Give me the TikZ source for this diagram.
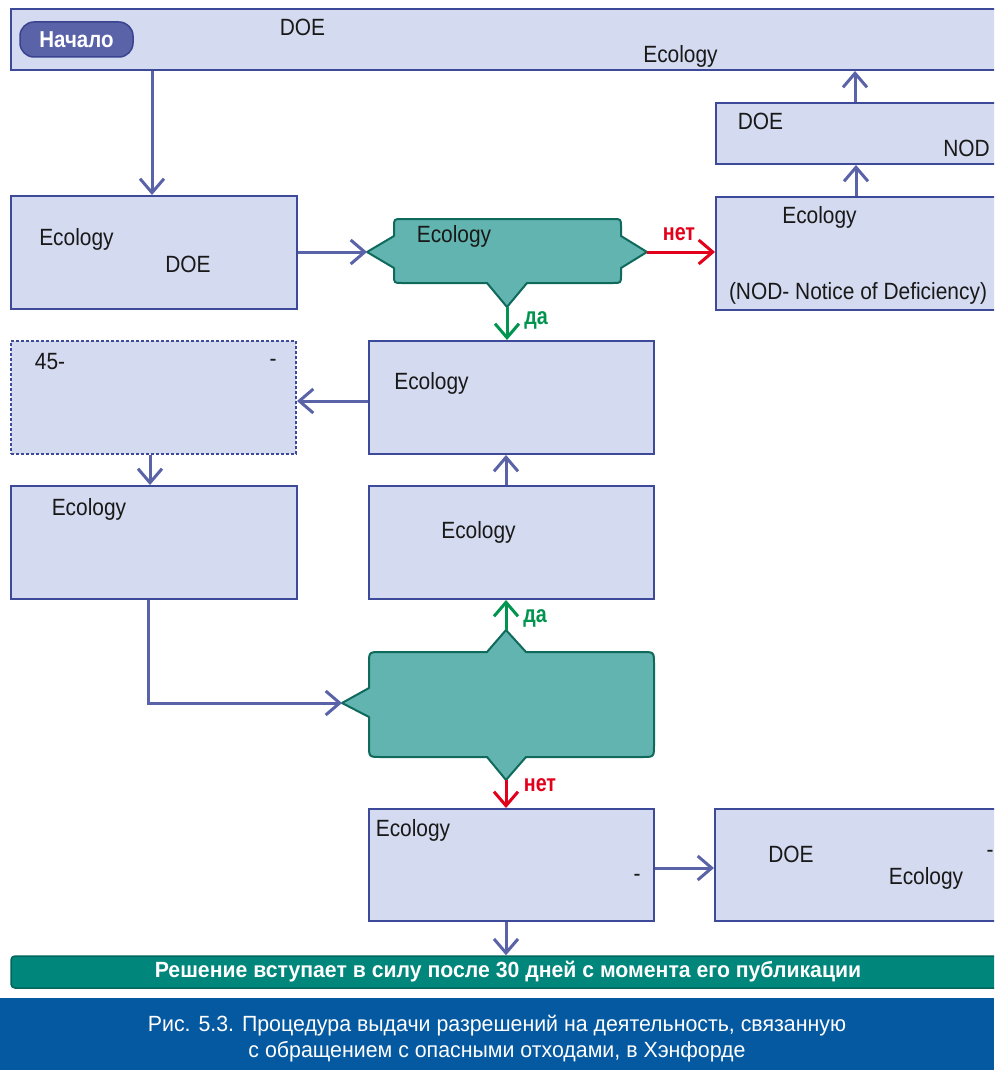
\documentclass[tikz,border=0pt]{standalone}
\usepackage{fontspec}
\setmainfont{Liberation Sans}
\newfontfamily\narrowfont{Liberation Sans}[FakeStretch=0.89]
\newfontfamily\lblfont{Liberation Sans}[FakeStretch=0.82]
\newfontfamily\bannerfont{Liberation Sans}[FakeStretch=0.965]
\newfontfamily\capfont{Liberation Sans}[FakeStretch=0.97]
\usetikzlibrary{arrows.meta,calc}
\definecolor{boxfill}{HTML}{D4DAEF}
\definecolor{boxdraw}{HTML}{3D4A9A}
\definecolor{arrowc}{HTML}{5A62A8}
\definecolor{decfill}{HTML}{62B4B0}
\definecolor{decdraw}{HTML}{0F6A5C}
\definecolor{greenc}{HTML}{00944F}
\definecolor{redc}{HTML}{E2001A}
\definecolor{bannerfill}{HTML}{00867A}
\definecolor{bannerdraw}{HTML}{00665C}
\definecolor{capfill}{HTML}{0559A0}
\definecolor{startfill}{HTML}{5A62A8}
\definecolor{startdraw}{HTML}{3A438F}
\begin{document}
\begin{tikzpicture}[x=1pt,y=-1pt,
  box/.style={draw=boxdraw, fill=boxfill, line width=2pt, rectangle, inner sep=0pt},
  dotbox/.style={draw=boxdraw, fill=boxfill, line width=2pt, dash pattern=on 3pt off 2pt, rectangle, inner sep=0pt},
  txt/.style={inner sep=0pt, text=black!90, font=\narrowfont\fontsize{23.5}{28}\selectfont},
  lbl/.style={inner sep=0pt, font=\lblfont\fontsize{24}{28}\selectfont\bfseries},
  arr/.style={draw=arrowc, line width=3pt, -{Straight Barb[length=14pt,width=24pt]}},
  garr/.style={arr, draw=greenc},
  rarr/.style={arr, draw=redc},
  dec/.style={draw=decdraw, fill=decfill, line width=2pt, line join=round}]
\useasboundingbox (0,0) rectangle (994,1070);
\clip (0,0) rectangle (994,1070);

% top box
\node[box, minimum width=989pt, minimum height=61pt] (top) at (505.5,39.5) {};
\node[draw=startdraw, fill=startfill, line width=1.5pt, rounded corners=14pt, minimum width=113pt, minimum height=35pt, inner sep=0pt, text=white, font=\narrowfont\fontsize{23}{27}\selectfont\bfseries] (start) at (76.5,39.5) {Начало};
\node[txt] (t1) at (302.5,27.5) {DOE};
\node[txt] (t2) at (680.5,56) {Ecology};

% right column upper
\node[box, minimum width=282pt, minimum height=61pt] (doenod) at (857,133.5) {};
\node[txt] (t3) at (760.5,121) {DOE};
\node[txt] (t4) at (966.5,148) {NOD};
\node[box, minimum width=282pt, minimum height=113pt] (nod) at (857,253.5) {};
\node[txt] (t5) at (819.5,217.5) {Ecology};
\node[txt] (t6) at (858,293) {(NOD- Notice of Deficiency)};

% left column
\node[box, minimum width=286pt, minimum height=113pt] (b2) at (154,252.5) {};
\node[txt] (t7) at (76.5,239) {Ecology};
\node[txt] (t8) at (188,264.5) {DOE};
\node[dotbox, minimum width=285pt, minimum height=113pt] (dot) at (153.5,397.5) {};
\node[txt] (t9) at (50,361.5) {45-};
\node[txt] (t10) at (273,363) {-};
\node[box, minimum width=286pt, minimum height=113pt] (l2) at (154,542.5) {};
\node[txt] (t11) at (89,509) {Ecology};

% center column
\node[box, minimum width=285pt, minimum height=113pt] (c1) at (511.5,397.5) {};
\node[txt] (t12) at (431.5,383) {Ecology};
\node[box, minimum width=285pt, minimum height=113pt] (c2) at (511.5,542.5) {};
\node[txt] (t13) at (478.5,532) {Ecology};
\node[box, minimum width=285pt, minimum height=112pt] (c3) at (511.5,865) {};
\node[txt] (t14) at (413,830) {Ecology};
\node[txt] (t15) at (637,878) {-};
\node[box, minimum width=283pt, minimum height=112pt] (r3) at (856.5,865) {};
\node[txt] (t16) at (791,854) {DOE};
\node[txt] (t17) at (926,878) {Ecology};
\node[txt] (t18) at (990,854) {-};

% decision 1
\draw[dec] (367,252) -- (394,236) -- (394,227) .. controls (394,219) .. (402,219) -- (613,219) .. controls (621,219) .. (621,227) -- (621,236) -- (647,252) -- (621,268) -- (621,275) .. controls (621,283) .. (613,283) -- (527,283) -- (507,307) -- (487,283) -- (402,283) .. controls (394,283) .. (394,275) -- (394,268) -- cycle;
\coordinate (d1l) at (367,252);
\coordinate (d1r) at (647,252);
\coordinate (d1b) at (507,307);
\node[txt] (t19) at (454,236) {Ecology};

% decision 2
\draw[dec] (342,703) -- (369,688) -- (369,664) .. controls (369,652) .. (381,652) -- (487,652) -- (506,630) -- (526,652) -- (642,652) .. controls (654,652) .. (654,664) -- (654,745) .. controls (654,757) .. (642,757) -- (526,757) -- (506,780) -- (487,757) -- (381,757) .. controls (369,757) .. (369,745) -- (369,717) -- cycle;
\coordinate (d2l) at (342,703);
\coordinate (d2t) at (506,630);
\coordinate (d2b) at (506,780);

% banner and caption
\node[draw=bannerdraw, fill=bannerfill, line width=1.5pt, rounded corners=4pt, minimum width=990pt, minimum height=32pt, inner sep=0pt] (banner) at (506,972) {};
\node[inner sep=0pt, text=white, font=\bannerfont\fontsize{22}{26}\selectfont\bfseries] (bt) at (508,972) {Решение вступает в силу после 30 дней с момента его публикации};
\node[fill=capfill, minimum width=994pt, minimum height=72pt, inner sep=0pt] (cap) at (497,1034) {};
\node[inner sep=0pt, text=white, align=center, font=\capfont\fontsize{22}{26}\selectfont] (ct) at (497,1039) {Рис. 5.3. Процедура выдачи разрешений на деятельность, связанную\\с обращением с опасными отходами, в Хэнфорде};

% connectors
\draw[arr] (top.south -| 152,0) -- (b2.north -| 152,0);
\draw[arr] (b2.east |- d1l) -- (d1l);
\draw[rarr] (d1r) -- (nod.west |- d1r);
\node[lbl, text=redc] (no1) at (679,234) {нет};
\draw[arr] (nod.north -| 856,0) -- (doenod.south -| 856,0);
\draw[arr] (doenod.north -| 855,0) -- (top.south -| 855,0);
\draw[garr] (d1b) -- (c1.north -| d1b);
\node[lbl, text=greenc] (yes1) at (536,320) {да};
\draw[arr] (c1.west |- 0,401) -- (dot.east |- 0,401);
\draw[arr] (dot.south -| 150,0) -- (l2.north -| 150,0);
\draw[arr] (c2.north -| d2t) -- (c1.south -| d2t);
\draw[garr] (d2t) -- (c2.south -| d2t);
\node[lbl, text=greenc] (yes2) at (535,618) {да};
\draw[arr] (l2.south -| 148,0) |- (d2l);
\draw[rarr] (d2b) -- (c3.north -| d2b);
\node[lbl, text=redc] (no2) at (540,785) {нет};
\draw[arr] (c3.east |- 0,868) -- (r3.west |- 0,868);
\draw[arr] (c3.south -| d2b) -- (banner.north -| d2b);
\end{tikzpicture}
\end{document}
